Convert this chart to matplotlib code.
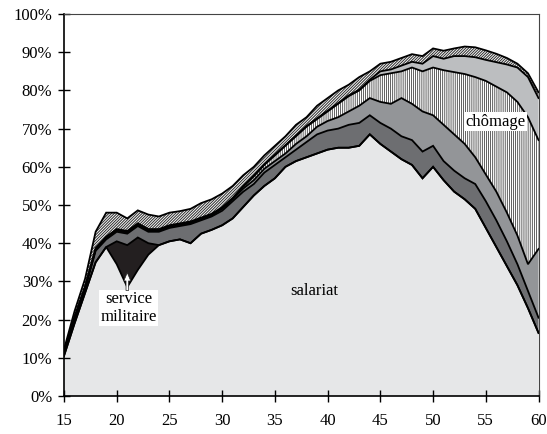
import numpy as np
import matplotlib
matplotlib.use("Agg")
import matplotlib.pyplot as plt

plt.rcParams['font.family'] = ['Liberation Serif', 'DejaVu Serif']
plt.rcParams['hatch.linewidth'] = 0.5
plt.rcParams['hatch.color'] = 'black'

ages = np.arange(15, 61)

# layer shares (% of the age group), ages 15..60
salariat = [10.5, 19, 27, 35, 39, 34.5, 28.5, 33, 37, 39.5,
            40.5, 41, 40, 42.5, 43.5, 44.7, 46.5, 49.5, 52.5, 55,
            57, 60, 61.5, 62.5, 63.5, 64.5, 65, 65, 65.5, 68.5,
            66, 64, 62, 60.5, 57, 60, 56.5, 53.5, 51.5, 49,
            44, 39, 34, 29, 23, 16.5]
service_militaire = [0, 0, 0, 0, 0, 6, 11, 8.5, 3, 0] + [0] * 36
gris_fonce = [0.5, 1, 1, 3, 2, 2.5, 3, 3, 3, 3.5,
              3.5, 3.5, 5, 3.5, 3.5, 3.8, 4.5, 4, 3, 3.5,
              3.5, 2.5, 3, 4, 5, 5, 5, 6, 6, 5,
              5.5, 6, 6, 6.5, 7, 5.5, 5, 5.5, 5.5, 6.5,
              7, 7, 6.5, 5.5, 4.5, 4]
gris_moyen = [0.3] * 10 + \
             [0.3, 0.3, 0.3, 0.3, 0.3, 0.5, 0.5, 0.8, 1, 1,
              1, 1, 1.5, 1.5, 2, 2.5, 3, 3.5, 4.5, 4.5,
              5.5, 6.5, 10, 9.5, 10.5, 8, 9.5, 9.5, 9, 7,
              7, 7.5, 7.5, 7.5, 7, 18]
chomage = [0.2] * 10 + \
          [0.2, 0.2, 0.2, 0.2, 0.2, 0.2, 0.2, 0.5, 1, 1,
           1.5, 2, 2, 2.5, 2, 2.5, 3.5, 4, 4, 4.5,
           7, 8, 7, 9.5, 10.5, 12.5, 14.3, 16.3, 18.3, 21,
           24.5, 27.5, 31.5, 35, 38.5, 28.5]
gris_clair = [0.2] * 29 + [0.3] + \
             [1, 1, 1.5, 1.5, 2, 3, 3, 4.2, 4.7, 5.2,
              5.5, 6.4, 7.3, 9, 10.5, 11]
hachure = [0.5, 1.5, 2, 4.3, 6.3, 4.3, 3.3, 3.4, 3.8, 3.3,
           3.3, 3.2, 3.3, 3.8, 3.8, 3.6, 3.1, 2.8, 2.3, 2.3,
           2.3, 2.3, 2.8, 2.3, 3.3, 3.3, 3.3, 2.8, 3.3, 2.2,
           2, 2, 2, 2, 2, 2, 2.1, 2, 2.5, 2.6,
           2.5, 2.2, 1.7, 1, 1, 1.5]

layers = [salariat, service_militaire, gris_fonce, gris_moyen, chomage, gris_clair, hachure]
styles = [
    dict(facecolor='#e6e7e8'),
    dict(facecolor='#231f20'),
    dict(facecolor='#6d6e71'),
    dict(facecolor='#939598'),
    dict(facecolor='white', hatch='||||||||', edgecolor='#222222'),
    dict(facecolor='#bcbec0'),
    dict(facecolor='white', hatch='////////////', edgecolor='#333333'),
]
hatch_lw = [0.5, 0.5, 0.5, 0.5, 0.5, 0.5, 0.75]

cum = np.cumsum(np.array(layers, dtype=float), axis=0)

fig = plt.figure(figsize=(5.47, 4.34), dpi=100)
ax = fig.add_axes([0.117, 0.0876, 0.8675, 0.880])

lower = np.zeros(len(ages))
for top, st, hl in zip(cum, styles, hatch_lw):
    plt.rcParams['hatch.linewidth'] = hl
    ax.fill_between(ages, lower, top, linewidth=0, zorder=1, **st)
    lower = top
for top in cum:
    ax.plot(ages, top, color='black', lw=1.3, zorder=3, solid_joinstyle='miter')

ax.set_xlim(15, 60)
ax.set_ylim(0, 100)
ax.set_xticks(np.arange(15, 61, 5))
ax.set_yticks(np.arange(0, 101, 10))
ax.set_yticklabels([f"{v}%" for v in range(0, 101, 10)])
ax.tick_params(direction='inout', length=9, width=1, labelsize=12, colors='black')
ax.tick_params(axis='y', pad=4)
ax.tick_params(axis='x', pad=8)
for s in ['left', 'bottom']:
    ax.spines[s].set_linewidth(1.2)
for s in ['top', 'right']:
    ax.spines[s].set_linewidth(0.8)
    ax.spines[s].set_color('#444444')

ax.text(38.7, 27.5, 'salariat', ha='center', va='center', fontsize=12, zorder=5)
ax.text(21.1, 23.0, 'service\nmilitaire', ha='center', va='center', fontsize=12,
        linespacing=1.15, zorder=5,
        bbox=dict(facecolor='white', edgecolor='none', pad=1))
ax.annotate('', xy=(21, 32.3), xytext=(21, 27.6), zorder=6,
            arrowprops=dict(arrowstyle='simple,head_width=0.5,head_length=0.6,tail_width=0.18',
                            fc='white', ec='#222222', lw=0.5, mutation_scale=10,
                            shrinkA=0, shrinkB=0))
ax.text(55.9, 71.8, 'chômage', ha='center', va='center', fontsize=12, zorder=5,
        bbox=dict(facecolor='white', edgecolor='none', pad=1))

fig.savefig('out.png', dpi=100)
